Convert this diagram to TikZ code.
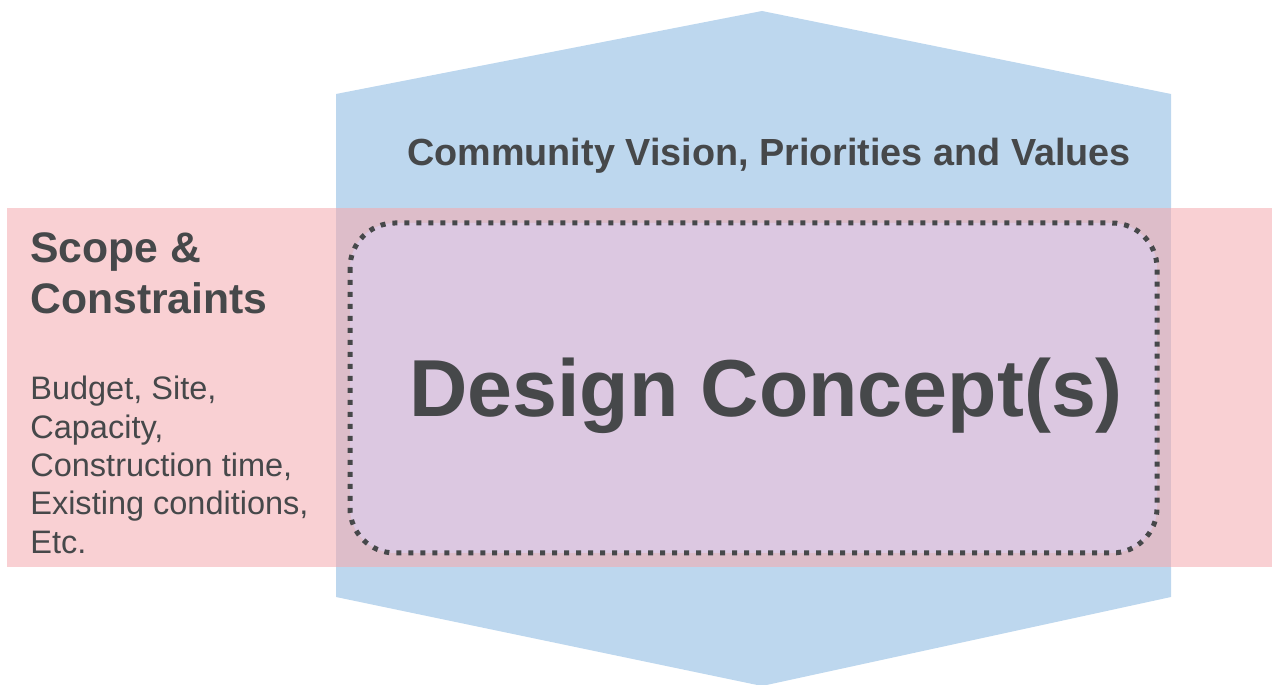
\documentclass[tikz,border=0pt]{standalone}
\usepackage{fontspec}
\setmainfont{Liberation Sans}
\usetikzlibrary{positioning}

\definecolor{visionblue}{HTML}{BDD7EE}
\definecolor{scopepink}{HTML}{F9D0D3}
\definecolor{overlapmix}{HTML}{DDBDC9}
\definecolor{conceptlilac}{HTML}{DCC8E1}
\definecolor{ink}{HTML}{46484A}

\tikzset{
  visionhead/.style={text=ink, inner sep=0pt, font=\bfseries\fontsize{21.5}{25}\selectfont},
  concepttitle/.style={text=ink, inner sep=0pt, font=\bfseries\fontsize{46}{54}\selectfont},
  scopehead/.style={text=ink, inner sep=0pt, align=left, font=\bfseries\fontsize{24.3}{29.5}\selectfont},
  scopebody/.style={text=ink, inner sep=0pt, align=left, font=\fontsize{18.5}{21.8}\selectfont},
  conceptbox/.style={draw=ink, fill=conceptlilac, line width=0.1cm,
    dash pattern=on 0.1cm off 0.14cm, rounded corners=0.9cm}
}

\begin{document}
\begin{tikzpicture}[x=0.02cm, y=-0.02cm]
\useasboundingbox (0,0) rectangle (1276,685);
% vision arrow (blue hexagon)
\fill[visionblue] (762,11) -- (1171,94) -- (1171,597) -- (762,686) -- (336,597) -- (336,94) -- cycle;
% scope band
\fill[scopepink] (7,208) rectangle (1272,567);
\fill[overlapmix] (336,208) rectangle (1171,567);
% design concept box
\draw[conceptbox] (350,223) rectangle (1157,553);

\node[visionhead, anchor=base] (vision) at (769,166) {Community Vision, Priorities and Values};
\node[concepttitle, anchor=base] (concept) at (766,417) {Design Concept(s)};
\node[scopehead, anchor=north west] (scope) at (30,232) {Scope \&\\Constraints};
\node[scopebody, anchor=north west] (limits) at (30,376) {Budget, Site,\\Capacity,\\Construction time,\\Existing conditions,\\Etc.};
\end{tikzpicture}
\end{document}
